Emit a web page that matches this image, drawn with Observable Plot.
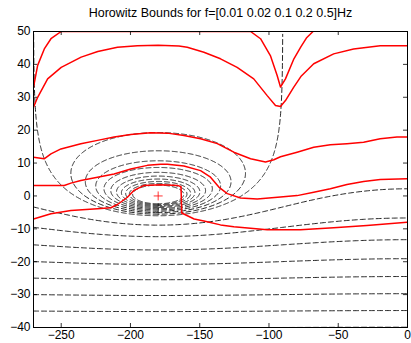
<!DOCTYPE html>
<html><head><meta charset="utf-8">
<script src="https://cdn.jsdelivr.net/npm/d3@7"></script>
<script src="https://cdn.jsdelivr.net/npm/@observablehq/plot@0.6"></script>
<style>
body{margin:0;background:#fff;}
#chart svg{display:block;}
</style>
</head><body><div id="chart"></div>
<script>
const title = "Horowitz Bounds for f=[0.01 0.02 0.1 0.2 0.5]Hz";
const xTicks = [-250, -200, -150, -100, -50, 0];
const yTicks = [-40, -30, -20, -10, 0, 10, 20, 30, 40, 50];
// closed-loop magnitude levels (dB) of the Nichols grid
const gridLevelsDb = [1, 2, 3, 4, 5, 6, 7, 8, 9, 10, 0, -5, -10, -15, -20, -25, -30, -35, -40];

// Horowitz bounds (phase deg, magnitude dB)
const b1Phase = [-270, -267, -262.2, -257.4, -250, -230, -200, -150, -113.3, -106.1, -99, -94.1, -91.7, -88.1, -82, -77, -73, -68.2];
const b1Mag   = [33.1, 39.7, 44.7, 47.8, 50, 50, 50, 50, 50, 47.8, 42.7, 36.6, 33.1, 35.6, 41.7, 45.3, 48, 50];
const b2Phase = [-270, -267, -259.8, -250, -235.6, -223.6, -209.4, -195, -180, -165, -159, -147, -135, -123, -111, -101.3, -95.3, -91.7, -88.1, -82.1, -77, -67.7, -53.3, -38.9, -19.7, 0];
const b2Mag   = [27.0, 30.0, 35.6, 39.1, 42.2, 43.9, 45.2, 45.7, 45.8, 45.6, 45.2, 43.7, 41.7, 39.1, 35.6, 30.5, 27.5, 27.2, 29.0, 33.1, 36.3, 40.2, 43.2, 44.7, 45.7, 45.7];
const b3Phase = [-270, -262.3, -257.4, -250.2, -235.8, -223.8, -211.8, -199.8, -185.4, -173.3, -161.4, -149.4, -137.3, -125.4, -113.3, -102.5, -96.5, -91.7, -79.7, -67.7, -55.7, -43.7, -31.7, -19.7, -7.6, 0];
const b3Mag   = [11.8, 11.3, 12.8, 14.3, 15.9, 16.9, 17.9, 18.7, 19.2, 19.1, 18.4, 17.4, 15.9, 13.3, 11.3, 10.3, 11.0, 11.9, 13.3, 14.8, 15.6, 15.9, 16.3, 17.4, 17.9, 17.9];
const b4Phase = [-270, -247.8, -243, -235.8, -223.8, -211.8, -199.8, -187.8, -178.2, -173.3, -161.4, -149.4, -142.2, -136.2, -130.1, -120.5, -108.5, -91.7, -79.7, -67.7, -55.7, -43.7, -31.7, -19.7, 0];
const b4Mag   = [3.2, 3.2, 3.9, 4.7, 5.7, 6.7, 8.2, 9.3, 9.6, 9.6, 9.1, 7.7, 5.7, 2.7, 0.7, -0.6, -0.9, -0.3, 0.1, 1.1, 2.2, 3.5, 4.4, 5.0, 5.2];
const b5Phase = [-270, -257.4, -243, -223.8, -214.2, -209.4, -202.2, -197.4, -190.2, -178.2, -166, -163.5, -163, -154, -147, -135, -125.4, -101.3, -77.3, -53.3, -29.3, 0];
const b5Mag   = [-7.0, -5.4, -4.4, -3.9, -3.6, -2.6, -0.4, 1.7, 3.2, 3.4, 3.2, 2.8, -5.2, -7.0, -7.6, -8.8, -9.4, -10.3, -10.3, -9.7, -9.0, -8.0];
const criticalPoint = [{phase: -180, mag: 0}];

const W = 411, H = 343, mL = 33, mR = 4, mT = 31, mB = 16;
const xDomain = [-270, 0], yDomain = [-40, 50];

const bounds = [
  [b1Phase, b1Mag], [b2Phase, b2Mag], [b3Phase, b3Mag], [b4Phase, b4Mag], [b5Phase, b5Mag]
].flatMap(([p, m], k) => p.map((ph, i) => ({phase: ph, mag: m[i], bound: k})));

function contour(Mdb) {
  const m = Math.pow(10, Mdb / 20), pts = [], rad = Math.PI / 180;
  if (Mdb > 0) {
    const c = -m * m / (m * m - 1), rho = m / (m * m - 1);
    for (let i = 0; i <= 720; i++) {
      const t = i * Math.PI / 360;
      const re = c + rho * Math.cos(t), im = rho * Math.sin(t);
      let ph = Math.atan2(im, re) / rad; if (ph > 0) ph -= 360;
      pts.push({phase: ph, mag: 20 * Math.log10(Math.hypot(re, im)), level: Mdb});
    }
  } else if (Mdb === 0) {
    for (let ph = -269.9; ph <= -90.1; ph += 0.1) {
      const r = -1 / (2 * Math.cos(ph * rad));
      const mag = 20 * Math.log10(r);
      if (mag < 60) pts.push({phase: ph, mag, level: Mdb});
    }
  } else {
    for (let ph = -270; ph <= 0; ph += 1) {
      const cs = Math.cos(ph * rad);
      const r = (m * m * cs + m * Math.sqrt(m * m * cs * cs + 1 - m * m)) / (1 - m * m);
      pts.push({phase: ph, mag: 20 * Math.log10(r), level: Mdb});
    }
  }
  return pts;
}
const grid = gridLevelsDb.flatMap(contour);

const tickPx = 4;
const dx = tickPx * (xDomain[1] - xDomain[0]) / (W - mL - mR);
const dy = tickPx * (yDomain[1] - yDomain[0]) / (H - mT - mB);
const font = "'Liberation Sans', Arial, Helvetica, sans-serif";

const chart = Plot.plot({
  width: W, height: H,
  marginLeft: mL, marginRight: mR, marginTop: mT, marginBottom: mB,
  style: {fontFamily: font, fontSize: "12px", background: "#fff", color: "#000"},
  x: {domain: xDomain, label: null},
  y: {domain: yDomain, label: null},
  marks: [
    Plot.line(grid, {x: "phase", y: "mag", z: "level", stroke: "#000", strokeWidth: 0.85, strokeDasharray: "5,3", clip: true}),
    Plot.line(bounds, {x: "phase", y: "mag", z: "bound", stroke: "#ff0000", strokeWidth: 1.5, curve: "linear", clip: true}),
    Plot.dot(criticalPoint, {x: "phase", y: "mag", symbol: "plus", r: 3, stroke: "#ff0000", strokeWidth: 0.8}),
    Plot.ruleX(xTicks, {x: d => d, y1: yDomain[0], y2: yDomain[0] + dy, stroke: "#000", strokeWidth: 0.8}),
    Plot.ruleX(xTicks, {x: d => d, y1: yDomain[1], y2: yDomain[1] - dy, stroke: "#000", strokeWidth: 0.8}),
    Plot.ruleY(yTicks, {y: d => d, x1: xDomain[0], x2: xDomain[0] + dx, stroke: "#000", strokeWidth: 0.8}),
    Plot.ruleY(yTicks, {y: d => d, x1: xDomain[1], x2: xDomain[1] - dx, stroke: "#000", strokeWidth: 0.8}),
    Plot.axisX({ticks: xTicks, tickSize: 0, tickPadding: 3, fontSize: 12, label: null}),
    Plot.axisY({ticks: yTicks, tickSize: 0, tickPadding: 3, fontSize: 12, label: null}),
    Plot.frame({stroke: "#000", strokeWidth: 1}),
    Plot.text([title], {frameAnchor: "top", lineAnchor: "middle", dy: -19, fontSize: 12.5, fill: "#000", text: d => d})
  ]
});
document.getElementById("chart").appendChild(chart);
</script>
</body></html>
